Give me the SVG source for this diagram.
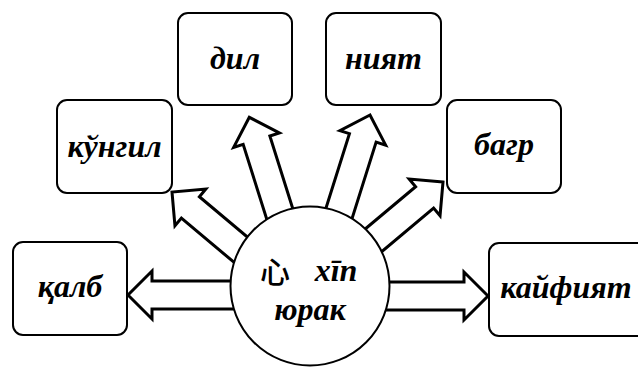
<svg xmlns="http://www.w3.org/2000/svg" width="638" height="367" viewBox="0 0 638 367">
<style>
.box{fill:#fff;stroke:#000;stroke-width:2}
.lbl{font-family:"Liberation Serif","Times New Roman",serif;font-weight:bold;font-style:italic;font-size:32px;text-anchor:middle;fill:#000}
.arr{fill:#fff;stroke:#000;stroke-width:3;stroke-linejoin:miter}
.hub{fill:#fff;stroke:#000;stroke-width:2}
</style>
<rect width="638" height="367" fill="#fff"/>
<g id="connectors">
<path class="arr" transform="translate(128,295) rotate(180)" d="M0,0 L-24,-24 L-24,-14 L-117,-14 L-117,14 L-24,14 L-24,24 Z"/>
<path class="arr" transform="translate(488,296)" d="M0,0 L-24,-24 L-24,-14 L-113,-14 L-113,14 L-24,14 L-24,24 Z"/>
<path class="arr" transform="translate(172,192) rotate(220)" d="M0,0 L-24,-24 L-24,-14 L-100,-14 L-100,14 L-24,14 L-24,24 Z"/>
<path class="arr" transform="translate(249.3,117.3) rotate(252.5)" d="M0,0 L-24,-24 L-24,-14 L-115,-14 L-115,14 L-24,14 L-24,24 Z"/>
<path class="arr" transform="translate(370,115) rotate(287.5)" d="M0,0 L-24,-24 L-24,-14 L-115,-14 L-115,14 L-24,14 L-24,24 Z"/>
<path class="arr" transform="translate(443,182) rotate(-40)" d="M0,0 L-24,-24 L-24,-14 L-100,-14 L-100,14 L-24,14 L-24,24 Z"/>
</g>
<g id="hub">
<circle class="hub" cx="310" cy="286" r="79.5"/>
<text x="275" y="283" font-family="'Noto Sans CJK SC',sans-serif" font-weight="500" font-size="30" text-anchor="middle">心</text>
<text class="lbl" x="336" y="281" font-size="34">xīn</text>
<text class="lbl" x="310" y="320" font-size="34">юрак</text>
</g>
<g id="node-dil">
<rect class="box" x="178" y="13" width="114" height="92" rx="10"/>
<text class="lbl" x="235" y="69">дил</text>
</g>
<g id="node-niyat">
<rect class="box" x="326" y="13" width="115" height="92" rx="10"/>
<text class="lbl" x="383.5" y="69">ният</text>
</g>
<g id="node-kungil">
<rect class="box" x="57" y="100" width="115" height="93" rx="10"/>
<text class="lbl" x="114.5" y="157">кўнгил</text>
</g>
<g id="node-bagr">
<rect class="box" x="447" y="100" width="114" height="93" rx="10"/>
<text class="lbl" x="504" y="155">багр</text>
</g>
<g id="node-qalb">
<rect class="box" x="13" y="242" width="114" height="93" rx="10"/>
<text class="lbl" x="70" y="297">қалб</text>
</g>
<g id="node-kayfiyat">
<rect class="box" x="489" y="243" width="160" height="93" rx="10"/>
<text class="lbl" x="566" y="298">кайфият</text>
</g>
</svg>
